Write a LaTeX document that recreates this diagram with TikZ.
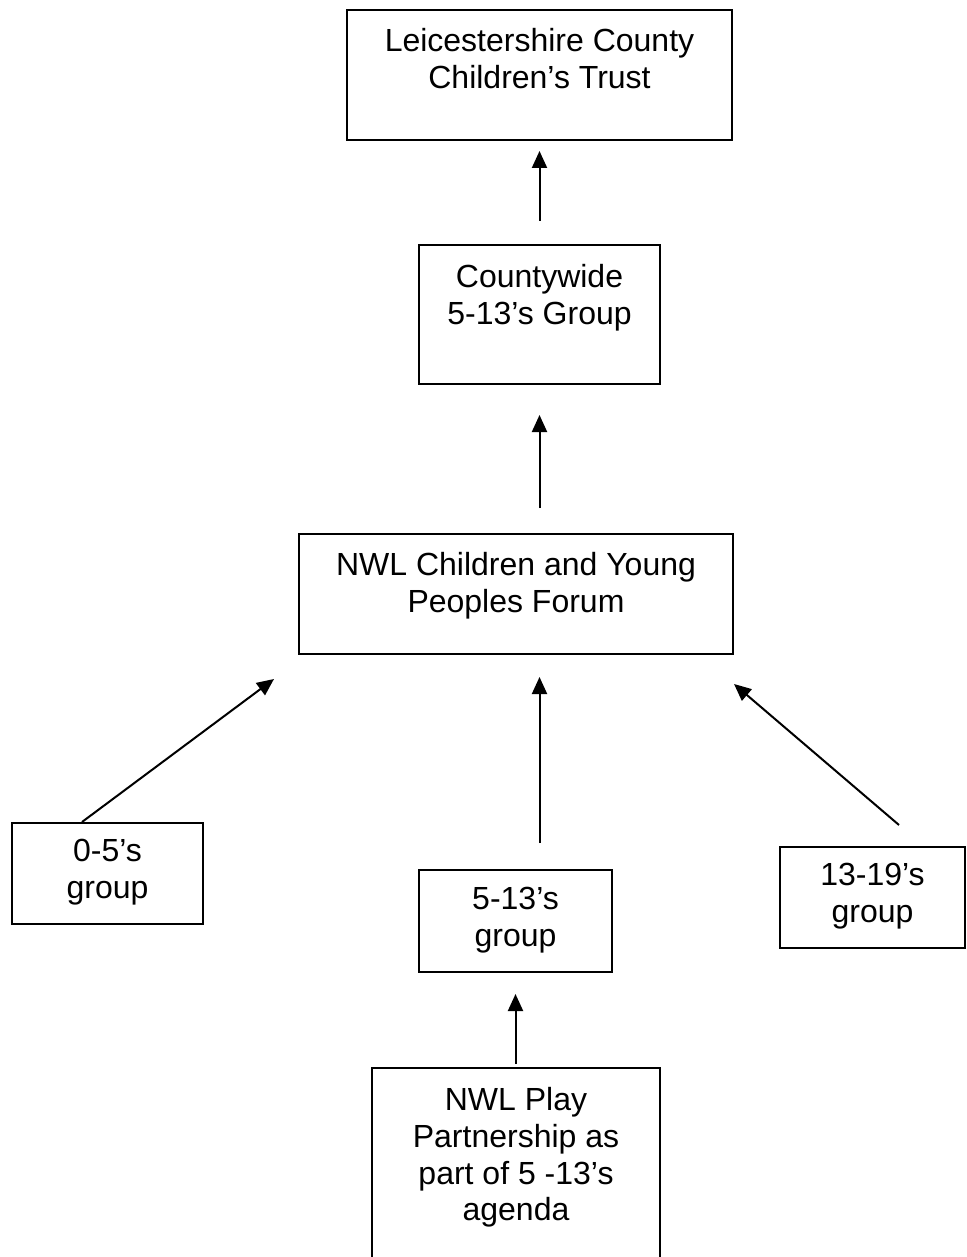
\documentclass[tikz,border=0pt]{standalone}
\usepackage{fontspec}
\setmainfont{Liberation Sans}
\usetikzlibrary{arrows.meta}
\tikzset{
  box/.style={draw=black, line width=2pt, inner sep=0pt, anchor=north west},
  lbl/.style={font=\fontsize{32}{36.8}\selectfont, align=center, inner sep=0pt, anchor=north},
  arr/.style={line width=2pt, -{Triangle[length=17pt,width=15pt]}}
}
\begin{document}
\begin{tikzpicture}[x=1pt,y=-1pt]
\useasboundingbox (0,0) rectangle (966,1257);
% boxes
\node[box, minimum width=385pt, minimum height=130pt] (trust) at (346,9) {};
\node[box, minimum width=241pt, minimum height=139pt] (county) at (418,244) {};
\node[box, minimum width=434pt, minimum height=120pt] (forum) at (298,533) {};
\node[box, minimum width=191pt, minimum height=101pt] (zero) at (11,822) {};
\node[box, minimum width=193pt, minimum height=102pt] (five) at (418,869) {};
\node[box, minimum width=185pt, minimum height=101pt] (teen) at (779,846) {};
\node[box, minimum width=288pt, minimum height=230pt] (play) at (371,1067) {};
% texts
\node[lbl] (trust-t) at ([yshift=-19pt]trust.north) {Leicestershire County\\Children’s Trust};
\node[lbl] (county-t) at ([yshift=-20pt]county.north) {Countywide\\5-13’s Group};
\node[lbl] (forum-t) at ([yshift=-19pt]forum.north) {NWL Children and Young\\Peoples Forum};
\node[lbl] (zero-t) at ([yshift=-17pt]zero.north) {0-5’s\\group};
\node[lbl] (five-t) at ([yshift=-18pt]five.north) {5-13’s\\group};
\node[lbl] (teen-t) at ([yshift=-17pt]teen.north) {13-19’s\\group};
\node[lbl] (play-t) at ([yshift=-20pt]play.north) {NWL Play\\Partnership as\\part of 5 -13’s\\agenda};
% connectors
\draw[arr, shorten <=23pt, shorten >=10pt] (county.north) -- (trust.south);
\draw[arr, shorten <=25pt, shorten >=30pt] (forum.north -| county.south) -- (county.south);
\draw[arr, shorten <=26pt, shorten >=22pt] (five.north -| county.south) -- (forum.south -| county.south);
\draw[arr, shorten <=3pt, shorten >=21pt] (play.north -| five.south) -- (five.south);
\draw[arr] ([xshift=71pt]zero.north west) -- ([xshift=-24pt,yshift=-24pt]forum.south west);
\draw[arr] ([xshift=120pt,yshift=21pt]teen.north west) -- ([yshift=-29pt]forum.south east);
\end{tikzpicture}
\end{document}
